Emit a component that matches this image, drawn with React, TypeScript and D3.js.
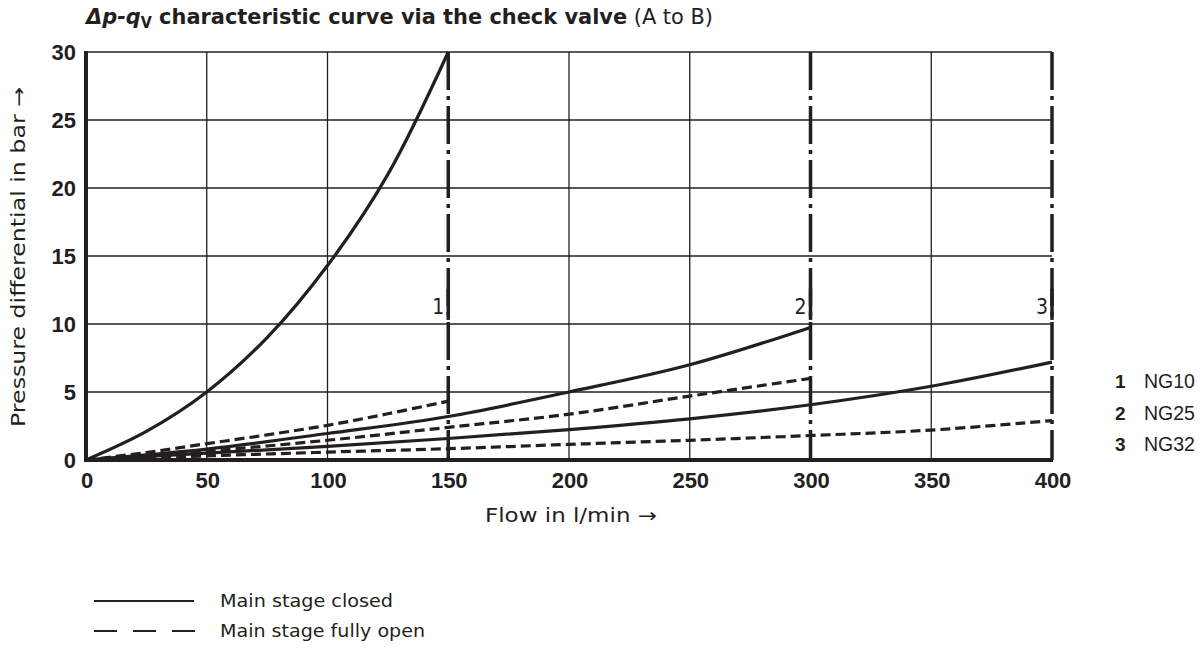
import React from "react";
import * as d3 from "d3";

// flow (l/min) and pressure differential (bar)
const qNG10 = [0, 25, 50, 75, 100, 125, 150];
const ng10Closed = [0, 2.1, 5, 9.0, 14.3, 21, 30];
const ng10Open = [0, 0.55, 1.2, 1.85, 2.55, 3.4, 4.33];
const qNG25 = [0, 50, 100, 150, 200, 250, 300];
const ng25Closed = [0, 0.8, 1.95, 3.2, 5.0, 7.0, 9.75];
const ng25Open = [0, 0.65, 1.45, 2.4, 3.37, 4.7, 6.0];
const qNG32 = [0, 50, 100, 150, 200, 250, 300, 350, 400];
const ng32Closed = [0, 0.5, 1.0, 1.58, 2.24, 3.03, 4.06, 5.42, 7.2];
const ng32Open = [0, 0.3, 0.58, 0.83, 1.15, 1.45, 1.8, 2.2, 2.9];

const xTicks = [0, 50, 100, 150, 200, 250, 300, 350, 400];
const yTicks = [0, 5, 10, 15, 20, 25, 30];
const limitFlows = [150, 300, 400];
const limitLabels = ["1", "2", "3"];
const sizeIds = ["1", "2", "3"];
const sizeNames = ["NG10", "NG25", "NG32"];

const INK = "#231f20";
const boldFont = "'Liberation Sans', Arial, sans-serif";
const narrowFont = "'Liberation Sans Narrow', 'DejaVu Sans Condensed', sans-serif";
const textFont = "'DejaVu Sans', 'Noto Sans', sans-serif";

export default function App() {
  const width = 1204;
  const height = 653;
  const left = 86;
  const right = 1052;
  const top = 52;
  const bottom = 460;

  const x = d3.scaleLinear().domain([0, 400]).range([left, right]);
  const y = d3.scaleLinear().domain([0, 30]).range([bottom, top]);

  const line = d3
    .line<[number, number]>()
    .x((d) => x(d[0]))
    .y((d) => y(d[1]))
    .curve(d3.curveCatmullRom.alpha(0.5));

  const series = [
    { q: qNG10, p: ng10Closed, dashed: false },
    { q: qNG10, p: ng10Open, dashed: true },
    { q: qNG25, p: ng25Closed, dashed: false },
    { q: qNG25, p: ng25Open, dashed: true },
    { q: qNG32, p: ng32Closed, dashed: false },
    { q: qNG32, p: ng32Open, dashed: true },
  ];

  return (
    <svg width={width} height={height} style={{ position: "absolute", left: 0, top: 0, background: "#fff" }}>
      {/* title */}
      <text x={86} y={24} fontFamily={narrowFont} fontSize={22} fill={INK} textLength={627} lengthAdjust="spacingAndGlyphs">
        <tspan fontWeight="bold" fontStyle="italic">Δp-q</tspan>
        <tspan fontWeight="bold" fontSize={15} dy={4}>V</tspan>
        <tspan fontWeight="bold" dy={-4}> characteristic curve via the check valve</tspan>
        <tspan> (A to B)</tspan>
      </text>

      {/* grid */}
      {xTicks.slice(1).filter((t) => !limitFlows.includes(t)).map((t) => (
        <line key={"gx" + t} x1={x(t)} x2={x(t)} y1={y(30)} y2={y(0)} stroke={INK} strokeWidth={1.3} />
      ))}
      {yTicks.slice(1).map((t) => (
        <line key={"gy" + t} x1={x(0)} x2={x(400)} y1={y(t)} y2={y(t)} stroke={INK} strokeWidth={1.3} />
      ))}

      {/* size limit lines */}
      {limitFlows.map((f, i) => (
        <g key={"lim" + f}>
          <line x1={x(f)} x2={x(f)} y1={y(30)} y2={y(0)} stroke={INK} strokeWidth={3.5} strokeDasharray="38,6,4,6" />
          <line x1={x(f)} x2={x(f)} y1={y(12.6)} y2={y(10.3)} stroke={INK} strokeWidth={3.5} />
          <text x={x(f) - 4} y={y(10.7)} textAnchor="end" fontFamily={narrowFont} fontSize={21} fill={INK}>
            {limitLabels[i]}
          </text>
        </g>
      ))}

      {/* curves */}
      {series.map((s, i) => (
        <path
          key={"s" + i}
          d={line(s.q.map((q, j) => [q, s.p[j]] as [number, number])) || ""}
          fill="none"
          stroke={INK}
          strokeWidth={3.2}
          strokeDasharray={s.dashed ? "10,5" : undefined}
        />
      ))}

      {/* axes */}
      <line x1={x(0)} x2={x(0)} y1={y(30) - 1} y2={y(0) + 2} stroke={INK} strokeWidth={4} />
      <line x1={x(0) - 2} x2={x(400) + 1} y1={y(0)} y2={y(0)} stroke={INK} strokeWidth={4} />

      {yTicks.map((t) => (
        <text key={"yt" + t} x={76} y={y(t) + 8} textAnchor="end" fontFamily={boldFont} fontWeight="bold" fontSize={22} fill={INK}>
          {t}
        </text>
      ))}
      {xTicks.map((t) => (
        <text key={"xt" + t} x={x(t) + 1} y={488} textAnchor="middle" fontFamily={boldFont} fontWeight="bold" fontSize={22} fill={INK}>
          {t}
        </text>
      ))}

      <text
        transform={`translate(25, ${257}) rotate(-90)`}
        textAnchor="middle"
        fontFamily={textFont}
        fontSize={19}
        fill={INK}
        textLength={340}
        lengthAdjust="spacingAndGlyphs"
      >
        Pressure differential in bar →
      </text>
      <text x={571} y={522} textAnchor="middle" fontFamily={textFont} fontSize={19} fill={INK} textLength={172} lengthAdjust="spacingAndGlyphs">
        Flow in l/min →
      </text>

      {/* size legend */}
      {sizeIds.map((id, i) => (
        <g key={"sz" + id}>
          <text x={1115} y={388 + i * 31.5} fontFamily={boldFont} fontWeight="bold" fontSize={19} fill={INK}>
            {id}
          </text>
          <text x={1144} y={388 + i * 31.5} fontFamily={boldFont} fontSize={19.5} fill={INK}>
            {sizeNames[i]}
          </text>
        </g>
      ))}

      {/* line style legend */}
      <line x1={94} x2={194} y1={601} y2={601} stroke={INK} strokeWidth={2.2} />
      <text x={220} y={607} fontFamily={textFont} fontSize={17} fill={INK} textLength={173} lengthAdjust="spacingAndGlyphs">
        Main stage closed
      </text>
      <line x1={94} x2={196} y1={631} y2={631} stroke={INK} strokeWidth={2.2} strokeDasharray="23,16" />
      <text x={220} y={637} fontFamily={textFont} fontSize={17} fill={INK} textLength={205} lengthAdjust="spacingAndGlyphs">
        Main stage fully open
      </text>
    </svg>
  );
}
